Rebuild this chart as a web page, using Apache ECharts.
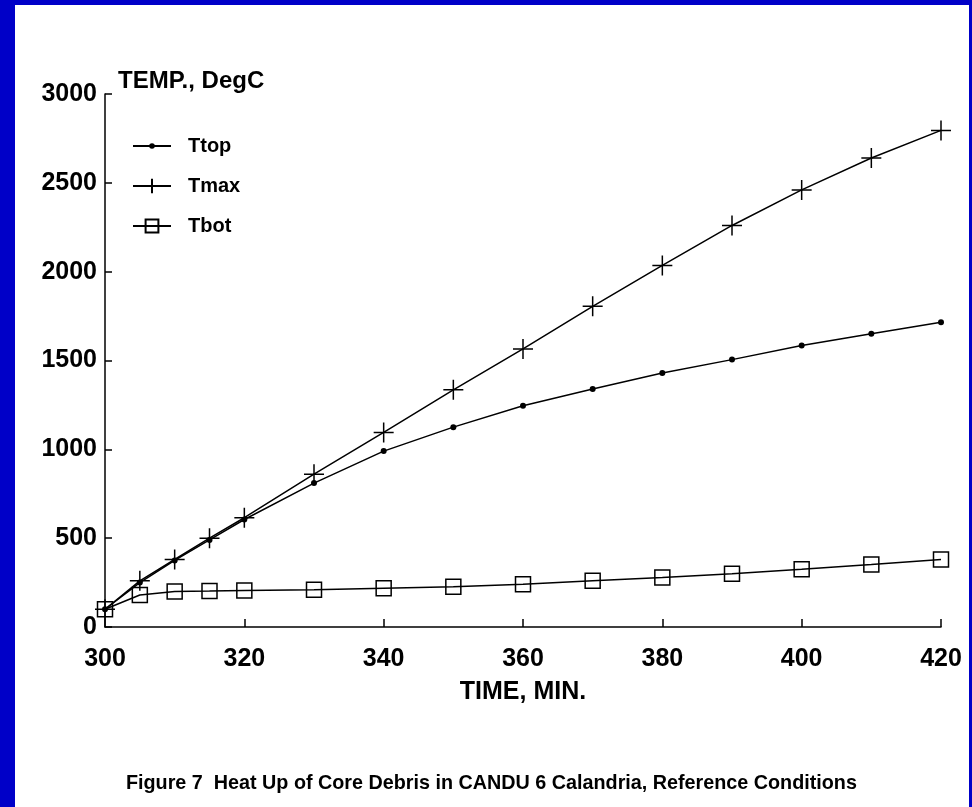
<!DOCTYPE html>
<html>
<head>
<meta charset="utf-8">
<script src="https://cdn.jsdelivr.net/npm/echarts@6/dist/echarts.min.js"></script>
<style>
  html, body { margin: 0; padding: 0; background: #0000c8; }
  #chart { position: absolute; left: 15px; top: 5px; width: 954px; height: 802px; background: #fff; }
</style>
</head>
<body>
<div id="chart"></div>
<script>
// time in minutes
var times = [300, 305, 310, 315, 320, 330, 340, 350, 360, 370, 380, 390, 400, 410, 420];
// temperatures, DegC
var tTop = [100, 250, 375, 490, 605, 810, 990, 1125, 1245, 1340, 1430, 1505, 1585, 1650, 1715];
var tMax = [100, 260, 380, 500, 615, 860, 1095, 1335, 1565, 1805, 2035, 2260, 2460, 2640, 2795];
var tBot = [100, 180, 200, 202, 205, 210, 218, 227, 240, 260, 278, 300, 325, 352, 380];

var names = ['Ttop', 'Tmax', 'Tbot'];
var caption = 'Figure 7  Heat Up of Core Debris in CANDU 6 Calandria, Reference Conditions';

function pairs(ys) {
    var out = [];
    for (var i = 0; i < times.length; i++) {
        out.push([times[i], ys[i]]);
    }
    return out;
}

var font = '"Liberation Sans", Arial, Helvetica, sans-serif';
var plus = 'path://M10,0L10,20M0,10L20,10';

// one legend per row so each marker can keep its own size
function legendRow(name, top, h) {
    return {
        orient: 'vertical',
        left: 117,
        top: top,
        padding: 0,
        itemWidth: 38,
        itemHeight: h,
        data: [name],
        textStyle: { fontSize: 20, fontWeight: 'bold', color: '#000', padding: [0, 0, 0, 12] }
    };
}

var myChart = echarts.init(document.getElementById('chart'));
var option = {
    animation: false,
    backgroundColor: '#fff',
    textStyle: { fontFamily: font },
    title: {
        text: caption,
        left: 106,
        top: 764,
        textStyle: { fontSize: 19.75, fontWeight: 'bold', color: '#000', fontFamily: font }
    },
    legend: [
        legendRow('Ttop', 131, 7),
        legendRow('Tmax', 171, 18),
        legendRow('Tbot', 211, 16)
    ],
    grid: { left: 90, right: 28, top: 89, bottom: 180 },
    xAxis: {
        type: 'value',
        min: 300,
        max: 420,
        interval: 20,
        name: 'TIME, MIN.',
        nameLocation: 'middle',
        nameGap: 53,
        nameTextStyle: { fontSize: 25, fontWeight: 'bold', color: '#000' },
        axisLine: { lineStyle: { color: '#000', width: 1.5 } },
        axisTick: { inside: true, length: 8, lineStyle: { color: '#000', width: 1.5 } },
        axisLabel: { fontSize: 25, fontWeight: 'bold', color: '#000', margin: 20 },
        splitLine: { show: false }
    },
    yAxis: {
        type: 'value',
        min: 0,
        max: 3000,
        interval: 500,
        name: 'TEMP., DegC',
        nameLocation: 'end',
        nameGap: 1,
        nameTextStyle: { fontSize: 24, fontWeight: 'bold', color: '#000', align: 'left', padding: [0, 0, 0, 13] },
        axisLine: { show: true, lineStyle: { color: '#000', width: 1.5 } },
        axisTick: { show: true, inside: true, length: 7, lineStyle: { color: '#000', width: 1.5 } },
        axisLabel: {
            fontSize: 25, fontWeight: 'bold', color: '#000', margin: 8,
            formatter: function (v) { return String(v); }
        },
        splitLine: { show: false }
    },
    series: [
        {
            name: 'Ttop',
            type: 'line',
            data: pairs(tTop),
            symbol: 'circle',
            symbolSize: 6,
            itemStyle: { color: '#000' },
            lineStyle: { color: '#000', width: 1.5 }
        },
        {
            name: 'Tmax',
            type: 'line',
            data: pairs(tMax),
            symbol: plus,
            symbolSize: 20,
            itemStyle: { color: '#000', borderColor: '#000', borderWidth: 1.5 },
            lineStyle: { color: '#000', width: 1.5 }
        },
        {
            name: 'Tbot',
            type: 'line',
            data: pairs(tBot),
            symbol: 'rect',
            symbolSize: 15,
            itemStyle: { color: 'rgba(0,0,0,0)', borderColor: '#000', borderWidth: 1.5 },
            lineStyle: { color: '#000', width: 1.5 }
        }
    ]
};
myChart.setOption(option);
</script>
</body>
</html>
